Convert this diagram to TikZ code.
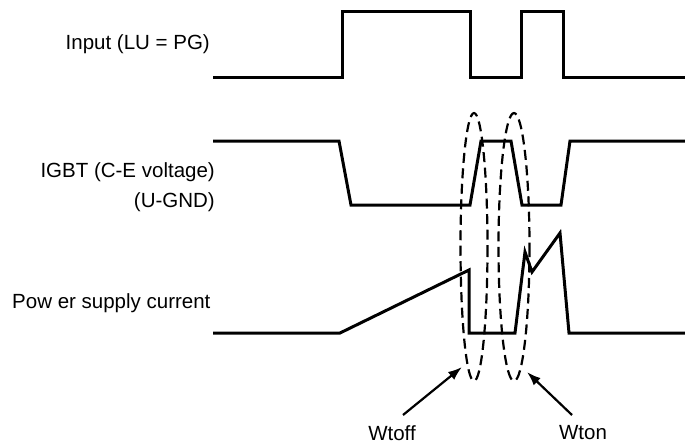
\documentclass[tikz,border=0pt]{standalone}
\usepackage{fontspec}
\setmainfont{Liberation Sans}
\usetikzlibrary{arrows.meta}
\begin{document}
\begin{tikzpicture}[x=1pt,y=-1pt,
  wave/.style={line width=3pt,line join=miter},
  oval/.style={line width=2.2pt,dash pattern=on 10pt off 5.5pt},
  pointer/.style={line width=2.2pt,-{Latex[length=14pt,width=10pt]}},
  lbl/.style={font=\fontsize{20.5}{24}\selectfont,inner sep=0pt}]
\useasboundingbox (0,0) rectangle (685,447);
% labels
\node[lbl,anchor=east] (input) at (210,44) {Input (LU = PG)};
\node[lbl,anchor=east] (igbt) at (215,172) {IGBT (C-E voltage)};
\node[lbl,anchor=east] (ugnd) at (215,202) {(U-GND)};
\node[lbl,anchor=west] (psc) at (12,303) {Pow er supply current};
\node[lbl] (wtoff) at (392,433) {Wtoff};
\node[lbl] (wton) at (583,433) {Wton};
% input waveform
\draw[wave] (213,77) -- (342,77) -- (342,11) -- (470,11) -- (470,77) -- (521,77) -- (521,11) -- (563,11) -- (563,77) -- (685,77);
% IGBT waveform
\draw[wave] (213,141) -- (339,141) -- (351,205) -- (470,205) -- (481,141) -- (511,141) -- (522,205) -- (561,205) -- (570,141) -- (685,141);
% power supply current
\draw[wave] (213,333) -- (340,333) -- (469,270) -- (469,333) -- (515,333) -- (525,252) -- (532,272) -- (560,233) -- (569,333) -- (685,333);
% dashed ovals
\draw[oval] (474,247) ellipse [x radius=13.5, y radius=134];
\draw[oval] (514,247) ellipse [x radius=15.5, y radius=134];
% arrows
\coordinate (toffstart) at (403,415);
\coordinate (tofftip) at (462,367);
\coordinate (tonstart) at (572,415);
\coordinate (tontip) at (527,372);
\draw[pointer] (toffstart) -- (tofftip);
\draw[pointer] (tonstart) -- (tontip);
\end{tikzpicture}
\end{document}
